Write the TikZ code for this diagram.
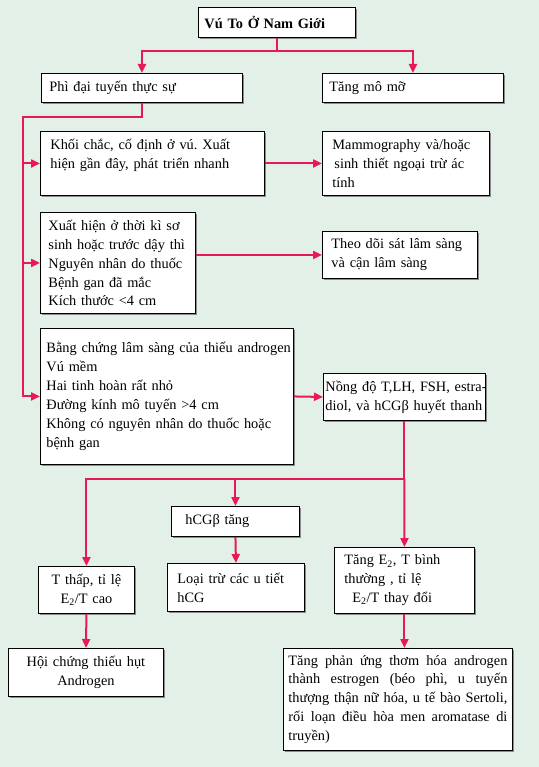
\documentclass[tikz,border=0pt]{standalone}
\usepackage{fontspec}
\setmainfont{Liberation Serif}
\usepackage{tikz}
\usetikzlibrary{arrows.meta,shadows}
\definecolor{mint}{RGB}{227,240,231}
\definecolor{crimson}{RGB}{232,26,86}
\frenchspacing

\begin{document}
\begin{tikzpicture}[x=1bp,y=-1bp,
  box/.style={draw=black,line width=0.9bp,fill=white,anchor=north west,align=left,inner ysep=0pt,
    drop shadow={shadow xshift=1.8bp,shadow yshift=-1.8bp,fill=black!55,opacity=0.8},
    font=\fontsize{14.4}{19}\selectfont},
  link/.style={draw=crimson,line width=2bp},
  flow/.style={link,-{Triangle[length=9bp,width=8bp]}}]
\fill[mint] (0,0) rectangle (539,767);
\useasboundingbox (0,0) rectangle (539,767);

% top row
\node[box,font=\fontsize{14.4}{19}\selectfont\bfseries,inner xsep=6bp,text width=145bp,minimum height=30bp] (title) at (198,7) {Vú To Ở Nam Giới};
\node[box,inner xsep=8bp,text width=185bp,minimum height=29bp] (phidai) at (41,73) {Phì đại tuyến thực sự};
\node[box,inner xsep=7bp,text width=167bp,minimum height=29bp] (mo) at (322,73) {Tăng mô mỡ};

% left column and answers
\node[box,inner xsep=10bp,text width=204bp,minimum height=64bp] (khoi) at (40,131) {Khối chắc, cố định ở vú. Xuất\\hiện gần đây, phát triển nhanh\\[-6bp]\strut};
\node[box,inner xsep=10bp,text width=147bp,minimum height=64bp] (mammo) at (322,131) {Mammography và/hoặc\\\hspace*{2bp}sinh thiết ngoại trừ ác\\tính};
\node[box,inner xsep=8bp,text width=139bp,minimum height=101bp] (xuat) at (40,212) {\mbox{Xuất hiện ở thời kì sơ}\\\mbox{sinh hoặc trước dậy thì}\\\mbox{Nguyên nhân do thuốc}\\Bệnh gan đã mắc\\Kích thước <4 cm};
\node[box,inner xsep=9bp,text width=137bp,minimum height=47bp] (theo) at (322,231) {\mbox{Theo dõi sát lâm sàng}\\và cận lâm sàng};
\node[box,inner xsep=6bp,text width=241bp,minimum height=136bp] (bang) at (40,328) {\mbox{Bằng chứng lâm sàng của thiếu androgen}\\Vú mềm\\Hai tinh hoàn rất nhỏ\\Đường kính mô tuyến >4 cm\\Không có nguyên nhân do thuốc hoặc\\bệnh gan};
\node[box,inner xsep=2bp,text width=158bp,minimum height=47bp] (nong) at (323,373) {\mbox{Nồng độ T,LH, FSH, estra-}\\\mbox{diol, và hCGβ huyết thanh}};

% bottom
\node[box,inner xsep=14bp,text width=100bp,minimum height=30bp] (hcg) at (171,506) {hCGβ tăng};
\node[box,inner xsep=10bp,text width=117bp,minimum height=48bp] (loai) at (167,563) {Loại trừ các u tiết\\hCG};
\node[box,align=center,inner xsep=4bp,text width=88bp,minimum height=47bp] (tthap) at (38,566) {T thấp, tỉ lệ\\E\textsubscript{2}/T cao};
\node[box,inner xsep=10bp,text width=120bp,minimum height=66bp] (tange2) at (334,547) {Tăng E\textsubscript{2}, T bình\\thường , tỉ lệ\\\hspace*{8bp}E\textsubscript{2}/T thay đổi};
\node[box,align=center,inner xsep=4bp,text width=147bp,minimum height=48bp] (hoi) at (8,648) {Hội chứng thiếu hụt\\Androgen};
\node[box,align=justify,inner xsep=5bp,text width=219bp,minimum height=102bp] (phan) at (283,648) {Tăng phản ứng thơm hóa androgen\linebreak thành estrogen (béo phì, u tuyến\linebreak thượng thận nữ hóa, u tế bào Sertoli,\linebreak rối loạn điều hòa men aromatase di\linebreak truyền)};

% connectors
\draw[flow] (title.south) -- ++(0,13) -| (phidai.north);
\draw[flow] (title.south) -- ++(0,13) -| (mo.north);
\coordinate (sp) at (23,117);
\draw[flow] (phidai.south) |- (sp) |- (bang.west);
\draw[flow] (sp |- khoi.west) -- (khoi.west);
\draw[flow] (sp |- xuat.west) -- (xuat.west);
\draw[flow] (khoi.east) -- (mammo.west);
\draw[flow] (theo.west -| xuat.east) -- (theo.west);
\draw[flow] (bang.east) -- (nong.west);
\draw[flow] (nong.south) -- ++(0,58) coordinate (br) -| (tthap.north);
\draw[flow] (br) -- (tange2.north);
\draw[flow] (br -| hcg.north) -- (hcg.north);
\draw[flow] (hcg.south) -- (loai.north);
\draw[flow] (tthap.south) -- (hoi.north);
\draw[flow] (tange2.south) -- (tange2.south |- phan.north);
\end{tikzpicture}
\end{document}
